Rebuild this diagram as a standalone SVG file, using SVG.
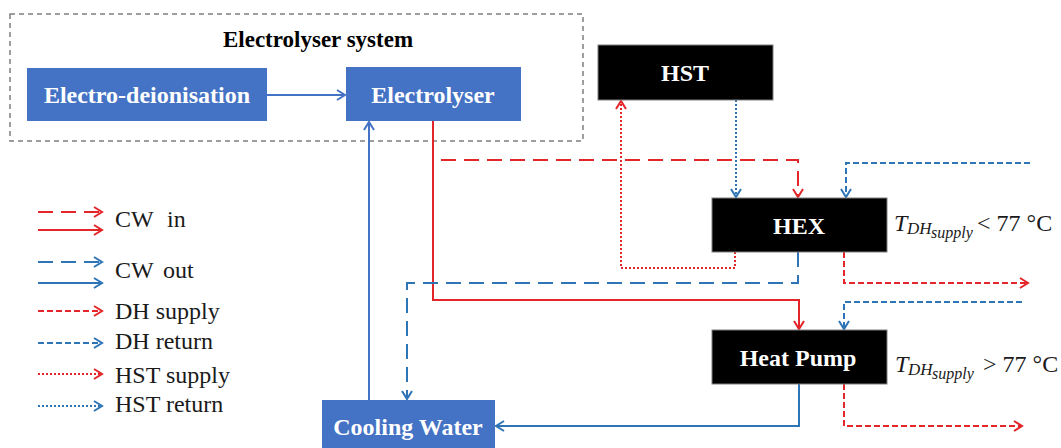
<svg xmlns="http://www.w3.org/2000/svg" width="1061" height="448" viewBox="0 0 1061 448">
<style>
.bx{fill:#4472C4}
.bk{fill:#000;stroke:#7f7f7f;stroke-width:1}
.bt{font-family:"Liberation Serif",serif;font-weight:bold;font-size:24px;fill:#fff;text-anchor:middle}
.lt{font-family:"Liberation Serif",serif;font-size:24px;fill:#1a1a1a}
.mi{font-family:"Liberation Serif",serif;font-style:italic;fill:#1a1a1a}
.c{fill:none;stroke-width:2}
.r{stroke:#E3262A}
.b{stroke:#2E75B6}
.b2{stroke:#4472C4}
.ld{stroke-dasharray:15 8}
.sd{stroke-dasharray:6 3}
.dt{stroke-dasharray:2 2}
.ar{marker-end:url(#ar)}
.ab{marker-end:url(#ab)}
.ab2{marker-end:url(#ab2)}
</style>
<defs>
<marker id="ar" viewBox="0 0 12 12" refX="10" refY="6" markerWidth="12" markerHeight="12" markerUnits="userSpaceOnUse" orient="auto"><path d="M2,1 L10,6 L2,11" fill="none" stroke="#E3262A" stroke-width="2"/></marker>
<marker id="ab" viewBox="0 0 12 12" refX="10" refY="6" markerWidth="12" markerHeight="12" markerUnits="userSpaceOnUse" orient="auto"><path d="M2,1 L10,6 L2,11" fill="none" stroke="#2E75B6" stroke-width="2"/></marker>
<marker id="ab2" viewBox="0 0 12 12" refX="10" refY="6" markerWidth="12" markerHeight="12" markerUnits="userSpaceOnUse" orient="auto"><path d="M2,1 L10,6 L2,11" fill="none" stroke="#4472C4" stroke-width="2"/></marker>
</defs>
<rect width="1061" height="448" fill="#fff"/>

<g id="system">
<rect x="10" y="14" width="573" height="127" fill="none" stroke="#7f7f7f" stroke-width="1.5" stroke-dasharray="5 4"/>
<text x="318" y="47" font-family="Liberation Serif,serif" font-weight="bold" font-size="23" fill="#000" text-anchor="middle">Electrolyser system</text>
</g>

<g id="connectors">
<path class="c b2 ab2" d="M267,95 H345"/>
<path class="c b2 ab2" d="M369,400 V122"/>
<path class="c r ar" d="M433,121 V300 H799 V329"/>
<path class="c r ld ar" d="M441,160 H798 V197"/>
<path class="c r dt ar" d="M735,252 V268 H621 V101"/>
<path class="c b dt ab" d="M736,100 V197"/>
<path class="c b sd ab" d="M1030,163 H846 V197"/>
<path class="c b ld ab" d="M798,252 V283 H407 V399"/>
<path class="c r sd ar" d="M844,252 V283 H1028"/>
<path class="c b sd ab" d="M1022,302 H844 V329"/>
<path class="c b ab" d="M799,384 V426 H496"/>
<path class="c r sd ar" d="M844,384 V426 H1022"/>
</g>

<g id="electrodeionisation"><rect class="bx" x="27" y="68" width="240" height="53"/><text class="bt" x="147" y="103">Electro-deionisation</text></g>
<g id="electrolyser"><rect class="bx" x="346" y="67" width="175" height="54"/><text class="bt" x="433" y="103">Electrolyser</text></g>
<g id="hst"><rect class="bk" x="598" y="45" width="175" height="55"/><text class="bt" x="685" y="81">HST</text></g>
<g id="hex"><rect class="bk" x="712" y="198" width="175" height="54"/><text class="bt" x="799" y="234">HEX</text></g>
<g id="heatpump"><rect class="bk" x="712" y="330" width="175" height="54"/><text class="bt" x="798" y="366">Heat Pump</text></g>
<g id="coolingwater"><rect class="bx" x="322" y="400" width="173" height="60"/><text class="bt" x="408" y="435">Cooling Water</text></g>

<g id="hex-label">
<text class="mi" x="894" y="231" font-size="24">T</text>
<text class="mi" x="907" y="234" font-size="17">DH</text>
<text class="mi" x="931" y="238" font-size="16">supply</text>
<text class="lt" x="977" y="231" font-size="22">&lt; 77 °C</text>
</g>
<g id="hp-label">
<text class="mi" x="895" y="372" font-size="24">T</text>
<text class="mi" x="908" y="375" font-size="17">DH</text>
<text class="mi" x="932" y="379" font-size="16">supply</text>
<text class="lt" x="983" y="372" font-size="22">&gt; 77 °C</text>
</g>

<g id="legend">
<path class="c r ld ar" d="M38,212 H102"/>
<path class="c r ar" d="M38,230 H102"/>
<path class="c b ld ab" d="M38,262 H102"/>
<path class="c b ab" d="M38,283 H102"/>
<path class="c r sd ar" d="M38,311 H102"/>
<path class="c b sd ab" d="M38,343 H102"/>
<path class="c r dt ar" d="M38,374 H102"/>
<path class="c b dt ab" d="M38,406 H102"/>
<text class="lt" x="115" y="227">CW</text><text class="lt" x="167" y="227">in</text>
<text class="lt" x="115" y="278">CW</text><text class="lt" x="163" y="278">out</text>
<text class="lt" x="115" y="319">DH supply</text>
<text class="lt" x="115" y="349">DH return</text>
<text class="lt" x="115" y="383">HST supply</text>
<text class="lt" x="115" y="412">HST return</text>
</g>
</svg>
